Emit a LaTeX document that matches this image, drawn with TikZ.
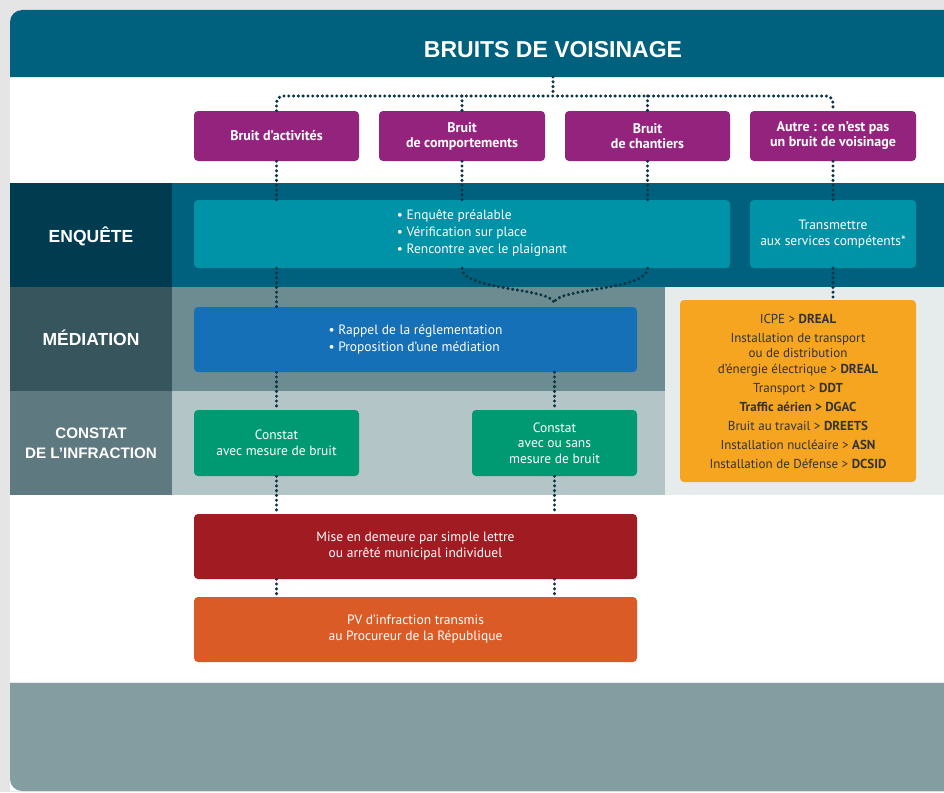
\documentclass[tikz,border=0pt]{standalone}
\usepackage{fontspec}
\setmainfont{PT Sans}
\newfontfamily\labfont{Liberation Sans}
\usetikzlibrary{calc}
\definecolor{bggrey}{HTML}{E5E5E5}
\definecolor{hdrcol}{HTML}{00617E}
\definecolor{enqL}{HTML}{003B50}
\definecolor{medL}{HTML}{37555C}
\definecolor{medR}{HTML}{6C8C91}
\definecolor{conL}{HTML}{5E797F}
\definecolor{conR}{HTML}{B4C5C7}
\definecolor{lightR}{HTML}{E6ECEC}
\definecolor{botcol}{HTML}{849DA0}
\definecolor{purp}{HTML}{94237E}
\definecolor{tealbox}{HTML}{0092A6}
\definecolor{bluebox}{HTML}{1570B8}
\definecolor{greenbox}{HTML}{009A72}
\definecolor{orgbox}{HTML}{F5A51F}
\definecolor{redbox}{HTML}{A11C22}
\definecolor{pvbox}{HTML}{DB5B27}
\definecolor{dotcol}{HTML}{0B3444}
\definecolor{orgtext}{HTML}{333333}
\begin{document}
\begin{tikzpicture}[x=1pt,y=-1pt,
  box/.style={rounded corners=4pt, inner sep=0pt, align=center, text=white,
    font=\bfseries\fontsize{14}{15}\selectfont},
  boxr/.style={box, font=\fontsize{13.5}{16}\selectfont},
  sidelab/.style={text=white, align=center, font=\labfont\bfseries\fontsize{17.5}{20}\selectfont},
  dotsline/.style={draw=dotcol, line width=3.4pt, dash pattern=on 0pt off 4.8pt, line cap=round}]
\useasboundingbox (0,0) rectangle (944,792);
\begin{scope}
\clip (0,0) rectangle (944,792);
\fill[bggrey] (0,0) rectangle (944,792);
% card
\fill[white] (960,791) -- (10,791) [rounded corners=12pt] -- (10,10) [sharp corners] -- (960,10) -- cycle;
\fill[white] (960,791) [rounded corners=12pt] -- (10,791) -- (10,600) [sharp corners] -- (960,600) -- cycle;
% header
\fill[hdrcol] (10,77) [rounded corners=12pt] -- (10,10) [sharp corners] -- (960,10) -- (960,77) -- cycle;
% bands
\fill[enqL] (10,183) rectangle (172,287);
\fill[hdrcol] (172,183) rectangle (960,287);
\fill[medL] (10,287) rectangle (172,391);
\fill[medR] (172,287) rectangle (665,391);
\fill[conL] (10,391) rectangle (172,495);
\fill[conR] (172,391) rectangle (665,495);
\fill[lightR] (665,287) rectangle (960,495);
% bottom band
\fill[botcol] (960,683) -- (10,683) [rounded corners=12pt] -- (10,791) [sharp corners] -- (960,791) -- cycle;
\draw[line width=1pt, draw=bggrey!80!white] (10,682.5) -- (960,682.5);
\end{scope}

% title
\node[text=white, font=\labfont\bfseries\fontsize{23}{26}\selectfont] (title) at (553,50) {BRUITS DE VOISINAGE};

% side labels
\node[sidelab] (lenq) at (91,236) {ENQUÊTE};
\node[sidelab] (lmed) at (91,338) {MÉDIATION};
\node[sidelab, font=\labfont\bfseries\fontsize{15.2}{20}\selectfont] (lcon) at (91,443) {CONSTAT\\DE L’INFRACTION};

% purple boxes
\node[box, fill=purp, minimum width=165pt, minimum height=50pt] (p1) at (276.5,136) {Bruit d’activités};
\node[box, fill=purp, minimum width=166pt, minimum height=50pt] (p2) at (462,136) {Bruit\\de comportements};
\node[box, fill=purp, minimum width=165pt, minimum height=50pt] (p3) at (647.5,136) {Bruit\\de chantiers};
\node[box, fill=purp, minimum width=166pt, minimum height=50pt] (p4) at (833,136) {Autre : ce n’est pas\\un bruit de voisinage};

% enquete
\node[box, fill=tealbox, minimum width=536pt, minimum height=68pt] (enq) at (462,234) {};
\node[boxr, align=left, font=\fontsize{13.5}{17}\selectfont] (enqtxt) at (482,233) {• Enquête préalable\\• Vérification sur place\\• Rencontre avec le plaignant};
\node[boxr, fill=tealbox, minimum width=166pt, minimum height=68pt, font=\fontsize{13.5}{15.5}\selectfont] (trans) at (833,234) {Transmettre\\aux services compétents*};

% mediation
\node[boxr, fill=bluebox, minimum width=443pt, minimum height=65pt, align=left, font=\fontsize{13.5}{17}\selectfont] (med) at (415.5,339.5) {• Rappel de la réglementation\\• Proposition d'une médiation};

% constat
\node[boxr, fill=greenbox, minimum width=165pt, minimum height=66pt] (g1) at (276.5,443) {Constat\\avec mesure de bruit};
\node[boxr, fill=greenbox, minimum width=165pt, minimum height=66pt, font=\fontsize{13.5}{15.5}\selectfont] (g2) at (554.5,443) {Constat\\avec ou sans\\mesure de bruit};

% orange list
\node[box, fill=orgbox, text=orgtext, minimum width=236pt, minimum height=182pt, font=\fontsize{13}{15.5}\selectfont] (org) at (798,391)
 {ICPE > \textbf{DREAL}\\[3.5pt]
  Installation de transport\\ou de distribution\\d'énergie électrique > \textbf{DREAL}\\[3.5pt]
  Transport > \textbf{DDT}\\[3.5pt]
  \textbf{Traffic aérien > DGAC}\\[3.5pt]
  Bruit au travail > \textbf{DREETS}\\[3.5pt]
  Installation nucléaire > \textbf{ASN}\\[3.5pt]
  Installation de Défense > \textbf{DCSID}};

% red / pv
\node[boxr, fill=redbox, minimum width=443pt, minimum height=65pt] (red) at (415.5,546.5) {Mise en demeure par simple lettre\\ou arrêté municipal individuel};
\node[boxr, fill=pvbox, minimum width=443pt, minimum height=65pt] (pv) at (415.5,629.5) {PV d'infraction transmis\\au Procureur de la République};

% connectors
\coordinate (hb) at (553,77);
\coordinate (hj) at (553,96);
\draw[dotsline] (hb) -- (hj);
\draw[dotsline, rounded corners=7pt] (p1.north) -- (p1.north |- hj) -- (p4.north |- hj) -- (p4.north);
\draw[dotsline] (p2.north |- hj) -- (p2.north);
\draw[dotsline] (p3.north |- hj) -- (p3.north);

\draw[dotsline] (p1.south) -- (p1.south |- enq.north);
\draw[dotsline] (p2.south) -- (enq.north);
\draw[dotsline] (p3.south) -- (p3.south |- enq.north);
\draw[dotsline] (p4.south) -- (trans.north);
\draw[dotsline] (trans.south) -- (trans.south |- org.north);

\draw[dotsline] (p1.south |- enq.south) -- (p1.south |- med.north);
\coordinate (mg) at (554,302);
\draw[dotsline] (enq.south) .. controls (462,290) and (548,288) .. (mg);
\draw[dotsline] (p3.south |- enq.south) .. controls (647.5,290) and (560,288) .. (mg);

\draw[dotsline] (p1.south |- med.south) -- (g1.north);
\draw[dotsline] (g2.north |- med.south) -- (g2.north);
\draw[dotsline] (g1.south) -- (g1.south |- red.north);
\draw[dotsline] (g2.south) -- (g2.south |- red.north);
\draw[dotsline] (g1.south |- red.south) -- (g1.south |- pv.north);
\draw[dotsline] (g2.south |- red.south) -- (g2.south |- pv.north);
\end{tikzpicture}
\end{document}
